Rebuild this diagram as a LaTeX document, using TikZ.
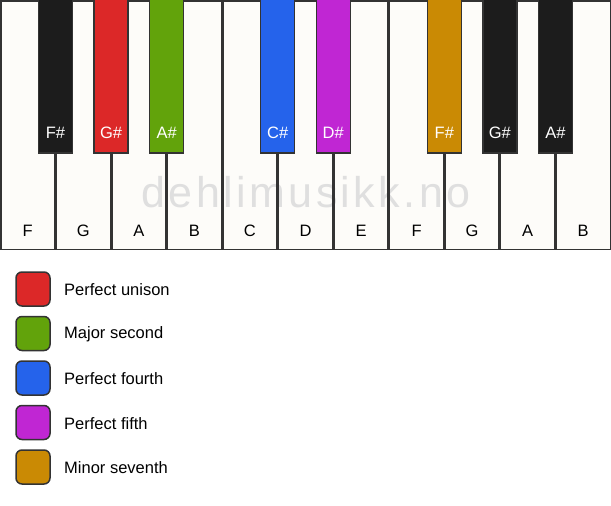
\documentclass[tikz,border=0pt]{standalone}
\usepackage{fontspec}
\setmainfont{Liberation Sans}
\definecolor{keywhite}{HTML}{FDFCF9}
\definecolor{keyblack}{HTML}{1C1C1C}
\definecolor{outl}{HTML}{333333}
\definecolor{cred}{HTML}{DC2828}
\definecolor{cgreen}{HTML}{62A30B}
\definecolor{cblue}{HTML}{2563EB}
\definecolor{cpurple}{HTML}{C026D3}
\definecolor{cgold}{HTML}{CA8A04}
\definecolor{wm}{HTML}{DFDFDF}
\tikzset{
  whitekey/.style={draw=outl,line width=1.5pt},
  blackkey/.style={draw=outl,line width=1.5pt},
  wlabel/.style={font=\fontsize{16.5}{19}\selectfont,text=black,inner sep=0pt},
  blabel/.style={font=\fontsize{16.5}{19}\selectfont,text=white,inner sep=0pt},
  legbox/.style={draw=outl,line width=1.5pt,rounded corners=6pt,minimum width=34pt,minimum height=34pt,inner sep=0pt},
  legtext/.style={font=\fontsize{16.5}{19}\selectfont,anchor=west,inner sep=0pt},
}
\begin{document}
\begin{tikzpicture}[x=1pt,y=-1pt]
\useasboundingbox[fill=white] (0,0) rectangle (611,506);
\def\W{55.545}
% white key fills
\foreach \i in {0,...,10}{
  \fill[keywhite] ({\i*\W},0) rectangle ({(\i+1)*\W},250);
}
% watermark
\node[font=\fontsize{43}{50}\selectfont\addfontfeature{LetterSpace=8},text=wm,inner sep=0pt,anchor=base] (watermark) at (306,207) {dehlimusikk.no};
% white key outlines and labels
\foreach \i/\n in {0/F,1/G,2/A,3/B,4/C,5/D,6/E,7/F,8/G,9/A,10/B}{
  \draw[whitekey] ({\i*\W+0.75},0.75) rectangle ({(\i+1)*\W-0.75},249.25);
  \node[wlabel] (w\i) at ({(\i+0.5)*\W},231) {\n};
}
\draw[outl,line width=1.5pt] (0.75,0.75) rectangle (610.25,249.25);
% black keys
\foreach \i/\n/\c in {1/F\#/keyblack,2/G\#/cred,3/A\#/cgreen,5/C\#/cblue,6/D\#/cpurple,8/F\#/cgold,9/G\#/keyblack,10/A\#/keyblack}{
  \draw[blackkey,fill=\c] ({\i*\W-17},-2) rectangle ({\i*\W+17},153);
  \node[blabel] (b\i) at ({\i*\W},133) {\n};
}
% legend
\foreach \k/\c/\t in {0/cred/Perfect unison,1/cgreen/Major second,2/cblue/Perfect fourth,3/cpurple/Perfect fifth,4/cgold/Minor seventh}{
  \node[legbox,fill=\c] (box\k) at (33,{289+44.5*\k}) {};
  \node[legtext] (lab\k) at (64,{290+44.5*\k}) {\t};
}
\end{tikzpicture}
\end{document}
